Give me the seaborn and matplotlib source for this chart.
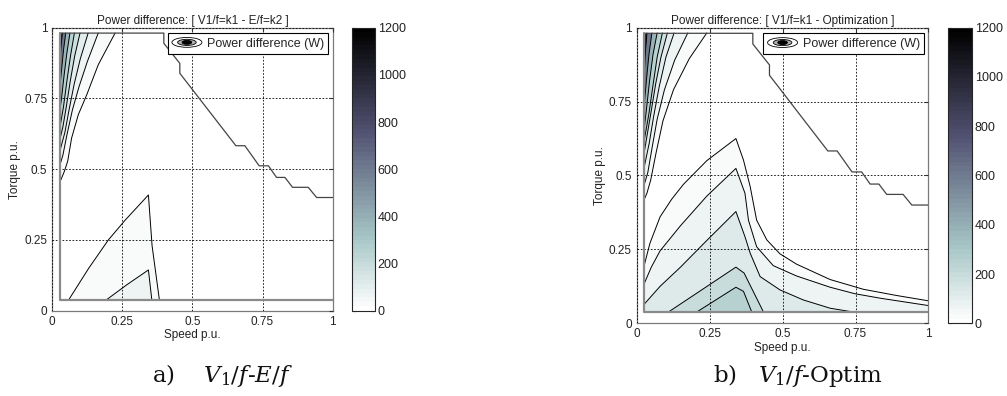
import numpy as np
import matplotlib
matplotlib.use("Agg")
import matplotlib.pyplot as plt
import seaborn as sns
from matplotlib.colors import Normalize
from matplotlib.cm import ScalarMappable
from matplotlib.patches import Ellipse
from matplotlib.legend_handler import HandlerBase
import pandas as pd

# ---- data (speed p.u., torque p.u., power W) ----
titles = ["Power difference: [ V1/f=k1 - E/f=k2 ]",
          "Power difference: [ V1/f=k1 - Optimization ]"]
ticks = [0, 0.25, 0.5, 0.75, 1]
tick_labels = ["0", "0.25", "0.5", "0.75", "1"]
cbar_ticks = [0, 200, 400, 600, 800, 1000, 1200]

# operating region (same for both panels)
region_left = 0.026
region_bottom = 0.039
boundary_speed = [0.026, 0.398, 0.398, 0.455, 0.455, 0.655, 0.687, 0.738, 0.771,
                  0.800, 0.830, 0.857, 0.913, 0.943, 1.0]
boundary_torque = [0.981, 0.981, 0.945, 0.874, 0.839, 0.583, 0.583, 0.512, 0.512,
                   0.471, 0.471, 0.436, 0.436, 0.400, 0.400]

# a) top-left fan of contours (start on top edge, end on left edge)
a_fan_speed = [
    [0.224, 0.164, 0.123, 0.093, 0.069, 0.055, 0.043, 0.031, 0.026],
    [0.164, 0.125, 0.095, 0.072, 0.052, 0.038, 0.026],
    [0.128, 0.100, 0.078, 0.060, 0.045, 0.026],
    [0.099, 0.080, 0.064, 0.050, 0.038, 0.026],
    [0.079, 0.065, 0.052, 0.040, 0.026],
    [0.063, 0.052, 0.042, 0.033, 0.026],
    [0.048, 0.040, 0.033, 0.026],
    [0.036, 0.031, 0.026],
]
a_fan_torque = [
    [0.981, 0.869, 0.763, 0.693, 0.610, 0.528, 0.492, 0.463, 0.460],
    [0.981, 0.880, 0.790, 0.710, 0.620, 0.550, 0.510],
    [0.981, 0.890, 0.800, 0.710, 0.630, 0.560],
    [0.981, 0.900, 0.810, 0.720, 0.650, 0.600],
    [0.981, 0.900, 0.810, 0.720, 0.640],
    [0.981, 0.910, 0.830, 0.750, 0.700],
    [0.981, 0.920, 0.850, 0.780],
    [0.981, 0.930, 0.860],
]
fan_power = [25, 60, 110, 170, 250, 380, 600, 1000]

# a) low-speed hump (both ends on bottom edge)
a_low_speed = [
    [0.059, 0.130, 0.200, 0.260, 0.343, 0.356, 0.382],
    [0.194, 0.265, 0.343, 0.355],
]
a_low_torque = [
    [0.039, 0.150, 0.250, 0.320, 0.409, 0.230, 0.039],
    [0.039, 0.091, 0.144, 0.039],
]
a_low_power = [25, 60]

# b) top-left fan
b_fan_speed = [
    [0.240, 0.180, 0.126, 0.090, 0.066, 0.048, 0.035, 0.026],
    [0.175, 0.130, 0.095, 0.070, 0.052, 0.038, 0.026],
    [0.128, 0.100, 0.077, 0.058, 0.043, 0.026],
    [0.105, 0.083, 0.065, 0.050, 0.038, 0.026],
    [0.088, 0.070, 0.055, 0.042, 0.026],
    [0.070, 0.056, 0.044, 0.034, 0.026],
    [0.052, 0.042, 0.033, 0.026],
    [0.035, 0.030, 0.026],
]
b_fan_torque = [
    [0.982, 0.895, 0.790, 0.685, 0.575, 0.485, 0.440, 0.420],
    [0.982, 0.890, 0.790, 0.690, 0.590, 0.510, 0.470],
    [0.982, 0.900, 0.800, 0.700, 0.610, 0.530],
    [0.982, 0.900, 0.810, 0.720, 0.650, 0.580],
    [0.982, 0.900, 0.800, 0.710, 0.620],
    [0.982, 0.910, 0.820, 0.730, 0.660],
    [0.982, 0.910, 0.820, 0.740],
    [0.982, 0.920, 0.850],
]

# b) low-speed / light-load contours
b_low_speed = [
    [0.026, 0.045, 0.080, 0.120, 0.160, 0.240, 0.340, 0.366, 0.389, 0.411, 0.446,
     0.491, 0.548, 0.663, 0.777, 0.891, 1.0],
    [0.026, 0.050, 0.080, 0.150, 0.240, 0.340, 0.371, 0.383, 0.411, 0.468, 0.548,
     0.663, 0.748, 0.834, 1.0],
    [0.026, 0.080, 0.150, 0.240, 0.340, 0.371, 0.389, 0.423, 0.491, 0.571, 0.663, 0.737],
    [0.110, 0.340, 0.368, 0.434],
    [0.207, 0.340, 0.366, 0.394],
]
b_low_torque = [
    [0.197, 0.270, 0.360, 0.420, 0.470, 0.550, 0.625, 0.552, 0.462, 0.349, 0.282,
     0.235, 0.200, 0.148, 0.115, 0.094, 0.076],
    [0.135, 0.190, 0.245, 0.330, 0.430, 0.524, 0.440, 0.349, 0.259, 0.195, 0.160,
     0.122, 0.100, 0.085, 0.060],
    [0.065, 0.125, 0.190, 0.280, 0.378, 0.293, 0.237, 0.158, 0.113, 0.079, 0.051, 0.039],
    [0.039, 0.190, 0.170, 0.039],
    [0.039, 0.122, 0.108, 0.039],
]
b_low_power = [25, 60, 130, 200, 260]

captions = [r"a)    $V_1/f$-$E/f$", r"b)   $V_1/f$-Optim"]

# ---- style ----
sns.set_style("white")
plt.rcParams["font.family"] = ["Liberation Sans", "DejaVu Sans"]
plt.rcParams["mathtext.fontset"] = "dejavuserif"

cmap = plt.get_cmap("bone_r").resampled(64)
norm = Normalize(0, 1200)


class ContourIcon(HandlerBase):
    def create_artists(self, legend, orig_handle, xdescent, ydescent,
                       width, height, fontsize, trans):
        cx, cy = width / 2 - xdescent, height / 2 - ydescent
        arts = []
        for w, h, fc in [(1.0, 1.0, "white"), (0.62, 0.62, "#b0b0b0"), (0.32, 0.4, "black")]:
            e = Ellipse((cx, cy), width * w, height * 0.95 * h, facecolor=fc,
                        edgecolor="black", lw=0.6, transform=trans)
            arts.append(e)
        return arts


def draw_lines(ax, speeds, torques, powers, corner):
    for s, t, p in zip(speeds, torques, powers):
        xs = list(s) + [c[0] for c in corner]
        ys = list(t) + [c[1] for c in corner]
        ax.fill(xs, ys, color=cmap(norm(p)), lw=0, zorder=1)
        df = pd.DataFrame({"speed": s, "torque": t})
        sns.lineplot(data=df, x="speed", y="torque", sort=False, estimator=None,
                     color="black", lw=0.7, ax=ax, zorder=2)


def panel(fig, ax_rect, cax_rect, title, fan_s, fan_t, low_s, low_t, low_p, low_corners):
    ax = fig.add_axes(ax_rect)
    # fan near the top-left corner
    draw_lines(ax, fan_s, fan_t, fan_power, [(region_left, 0.981)])
    for s, t, p, c in zip(low_s, low_t, low_p, low_corners):
        draw_lines(ax, [s], [t], [p], c)
    # region outline
    ax.plot(boundary_speed, boundary_torque, color="#444444", lw=0.9, zorder=3)
    ax.plot([region_left, region_left, 1.0], [boundary_torque[0], region_bottom, region_bottom],
            color="#8a8a8a", lw=1.6, zorder=3)

    ax.set_xlim(0, 1)
    ax.set_ylim(0, 1)
    ax.set_xticks(ticks)
    ax.set_yticks(ticks)
    ax.set_xticklabels(tick_labels)
    ax.set_yticklabels(tick_labels)
    ax.tick_params(direction="in", length=3, labelsize=8.5, top=True, right=True,
                   colors="#333333", labelcolor="#222222")
    ax.grid(True, color="black", ls=(0, (2, 2)), lw=0.6)
    ax.set_axisbelow(False)
    for sp in ax.spines.values():
        sp.set_color("#7a7a7a")
        sp.set_linewidth(0.9)
    ax.set_title(title, fontsize=8.5, color="#222222", pad=3)
    ax.set_xlabel("Speed p.u.", fontsize=8.5, color="#222222", labelpad=1)
    ax.set_ylabel("Torque p.u.", fontsize=8.5, color="#222222", labelpad=2)

    leg = ax.legend([object()], ["Power difference (W)"], handler_map={object: ContourIcon()},
                    loc="upper right", bbox_to_anchor=(0.985, 0.982), borderaxespad=0,
                    fancybox=False, framealpha=1, edgecolor="black", fontsize=9,
                    handlelength=2.4, handleheight=0.9, borderpad=0.35, handletextpad=0.4)
    leg.get_frame().set_linewidth(0.8)
    leg.set_zorder(5)

    cax = fig.add_axes(cax_rect)
    cb = fig.colorbar(ScalarMappable(norm=norm, cmap=cmap), cax=cax, ticks=cbar_ticks)
    cb.outline.set_linewidth(0.8)
    cax.tick_params(direction="in", length=3, labelsize=9, left=True, right=True,
                    colors="#333333", labelcolor="#222222", pad=2)
    return ax


fig = plt.figure(figsize=(10.07, 3.96), dpi=100)

panel(fig, [0.0519, 0.2154, 0.2784, 0.7146], [0.3496, 0.2154, 0.0228, 0.7146],
      titles[0], a_fan_speed, a_fan_torque, a_low_speed, a_low_torque, a_low_power,
      [[], []])

bottom_right = [(1.0, region_bottom), (region_left, region_bottom)]
panel(fig, [0.6323, 0.1836, 0.2897, 0.7465], [0.9414, 0.1836, 0.0238, 0.7465],
      titles[1], b_fan_speed, b_fan_torque, b_low_speed, b_low_torque, b_low_power,
      [bottom_right, bottom_right, [(region_left, region_bottom)], [], []])

fig.text(0.151, 0.052, captions[0], fontsize=16.5, family="DejaVu Serif",
         color="#111111", va="center")
fig.text(0.708, 0.052, captions[1], fontsize=16.5, family="DejaVu Serif",
         color="#111111", va="center")

fig.savefig("out.png", dpi=100)
